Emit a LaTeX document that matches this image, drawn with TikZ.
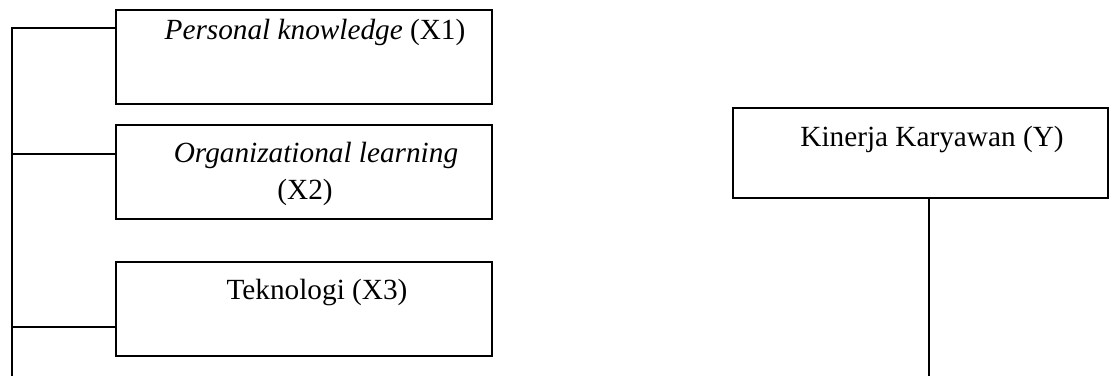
\documentclass[tikz,border=0pt]{standalone}
\usepackage{fontspec}
\setmainfont{Liberation Serif}
\begin{document}
\begin{tikzpicture}[x=0.41pt,y=0.41pt]
  \tikzstyle{var}=[draw, line width=0.8pt, minimum width=154.2pt, minimum height=38.5pt, inner sep=0pt]
  \tikzstyle{lbl}=[font=\fontsize{12}{16.4}\selectfont, anchor=base, inner sep=0pt]
  \tikzstyle{link}=[line width=0.45pt]

  \useasboundingbox (0,0) rectangle (1110,376);

  \node[var] (x1) at (304,319) {};
  \node[var] (x2) at (304,204) {};
  \node[var] (x3) at (304,67) {};
  \node[var, minimum width=153.8pt, minimum height=36.9pt] (y) at (920.5,223) {};

  \node[lbl] (x1 text) at (315,337) {\textit{Personal knowledge} (X1)};
  \node[lbl] (x2 text) at (316,214) {\textit{Organizational learning}};
  \node[lbl] (x2 code) at (305,177) {(X2)};
  \node[lbl] (x3 text) at (317,77) {Teknologi (X3)};
  \node[lbl] (y text) at (932,230) {Kinerja Karyawan (Y)};

  \coordinate (bus top) at (12,348);
  \coordinate (bus mid) at (12,222);
  \coordinate (bus low) at (12,49);
  \coordinate (bus end) at (12,0);
  \coordinate (y end) at (929,0);

  \draw[link] (bus end) -- (bus top) -- (bus top -| x1.west);
  \draw[link] (bus mid) -- (bus mid -| x2.west);
  \draw[link] (bus low) -- (bus low -| x3.west);
  \draw[link] (y.south -| y end) -- (y end);
\end{tikzpicture}
\end{document}
